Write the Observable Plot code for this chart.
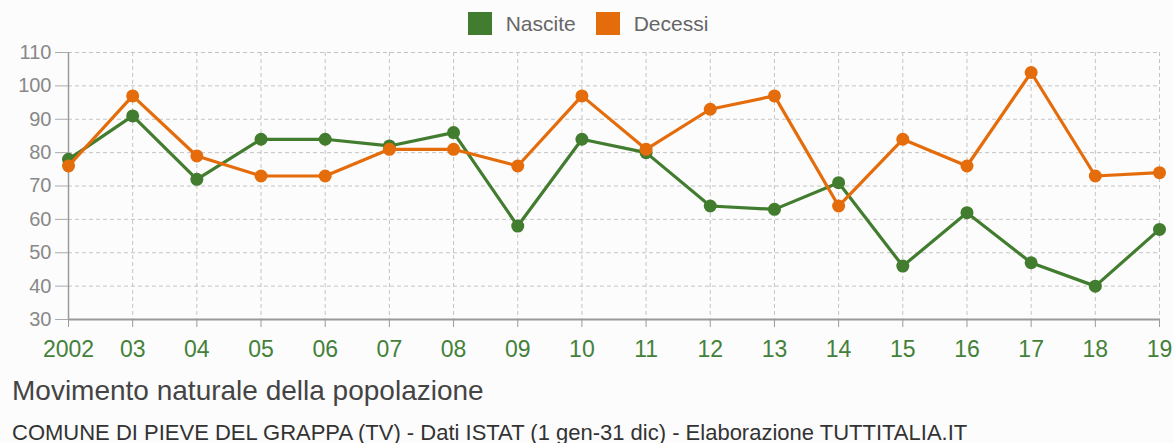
<!DOCTYPE html>
<html><head><meta charset="utf-8">
<script src="https://cdn.jsdelivr.net/npm/d3@7"></script>
<script src="https://cdn.jsdelivr.net/npm/@observablehq/plot@0.6"></script>
<style>
body{margin:0;background:#fcfcfc;font-family:"Liberation Sans",Arial,sans-serif;width:1174px;height:443px;overflow:hidden;position:relative}
#legend{position:absolute;left:0;top:0;width:1174px;height:47px;display:flex;justify-content:center;align-items:center;font-size:21px;color:#666;padding-left:2px;box-sizing:border-box}
#legend span.sw{display:inline-block;width:24px;height:23px;margin-right:14px}
#legend .item{display:flex;align-items:center;margin:0 10px}
#title{position:absolute;left:12px;top:377px;font-size:28px;line-height:1;color:#444}
#sub{position:absolute;left:12px;top:422px;font-size:22px;line-height:1;color:#333}
</style></head>
<body>
<div id="chart"></div>
<div id="legend"></div>
<div id="title">Movimento naturale della popolazione</div>
<div id="sub">COMUNE DI PIEVE DEL GRAPPA (TV) - Dati ISTAT (1 gen-31 dic) - Elaborazione TUTTITALIA.IT</div>
<script>
const years = [2002,2003,2004,2005,2006,2007,2008,2009,2010,2011,2012,2013,2014,2015,2016,2017,2018,2019];
const yearLabels = ["2002","03","04","05","06","07","08","09","10","11","12","13","14","15","16","17","18","19"];
const nascite = [78,91,72,84,84,82,86,58,84,80,64,63,71,46,62,47,40,57];
const decessi = [76,97,79,73,73,81,81,76,97,81,93,97,64,84,76,104,73,74];
const yTicks = [30,40,50,60,70,80,90,100,110];
const seriesNames = ["Nascite","Decessi"];
const colors = ["#427c2f","#e46c0a"];

const leg = document.getElementById("legend");
seriesNames.forEach((n,i)=>{
  const it=document.createElement("div");it.className="item";
  it.innerHTML=`<span class="sw" style="background:${colors[i]}"></span><span>${n}</span>`;
  leg.appendChild(it);
});

const data = [];
years.forEach((y,i)=>{
  data.push({year:y, value:nascite[i], s:"Nascite"});
  data.push({year:y, value:decessi[i], s:"Decessi"});
});
const lbl = new Map(years.map((y,i)=>[y,yearLabels[i]]));

const chart = Plot.plot({
  width:1174, height:369,
  marginTop:52, marginBottom:50, marginLeft:68, marginRight:15,
  style:{background:"transparent", fontFamily:"Liberation Sans, Arial, sans-serif"},
  x:{domain:[2002,2019]},
  y:{domain:[30,110]},
  color:{domain:seriesNames, range:colors},
  marks:[
    Plot.gridX(years,{stroke:"#c4c4c4",strokeOpacity:1,strokeDasharray:"4,3"}),
    Plot.gridY(yTicks,{stroke:"#c4c4c4",strokeOpacity:1,strokeDasharray:"4,3"}),
    Plot.ruleX([2002],{y1:30,y2:110,stroke:"#9a9a9a",strokeWidth:1.5}),
    Plot.ruleY([30],{stroke:"#9a9a9a",strokeWidth:2}),
    Plot.axisY(yTicks,{tickSize:13,tickPadding:4,fontSize:20,fill:"#888",stroke:"#aaa",label:null}),
    Plot.axisX(years,{tickSize:8,tickPadding:13,fontSize:23,fill:"#43813a",stroke:"#9a9a9a",label:null,tickFormat:d=>lbl.get(d)}),
    Plot.line(data.filter(d=>d.s==="Nascite"),{x:"year",y:"value",stroke:colors[0],strokeWidth:3.2}),
    Plot.dot(data.filter(d=>d.s==="Nascite"),{x:"year",y:"value",fill:colors[0],r:6.5}),
    Plot.line(data.filter(d=>d.s==="Decessi"),{x:"year",y:"value",stroke:colors[1],strokeWidth:3.2}),
    Plot.dot(data.filter(d=>d.s==="Decessi"),{x:"year",y:"value",fill:colors[1],r:6.5})
  ]
});
document.getElementById("chart").appendChild(chart);
</script>
</body></html>
